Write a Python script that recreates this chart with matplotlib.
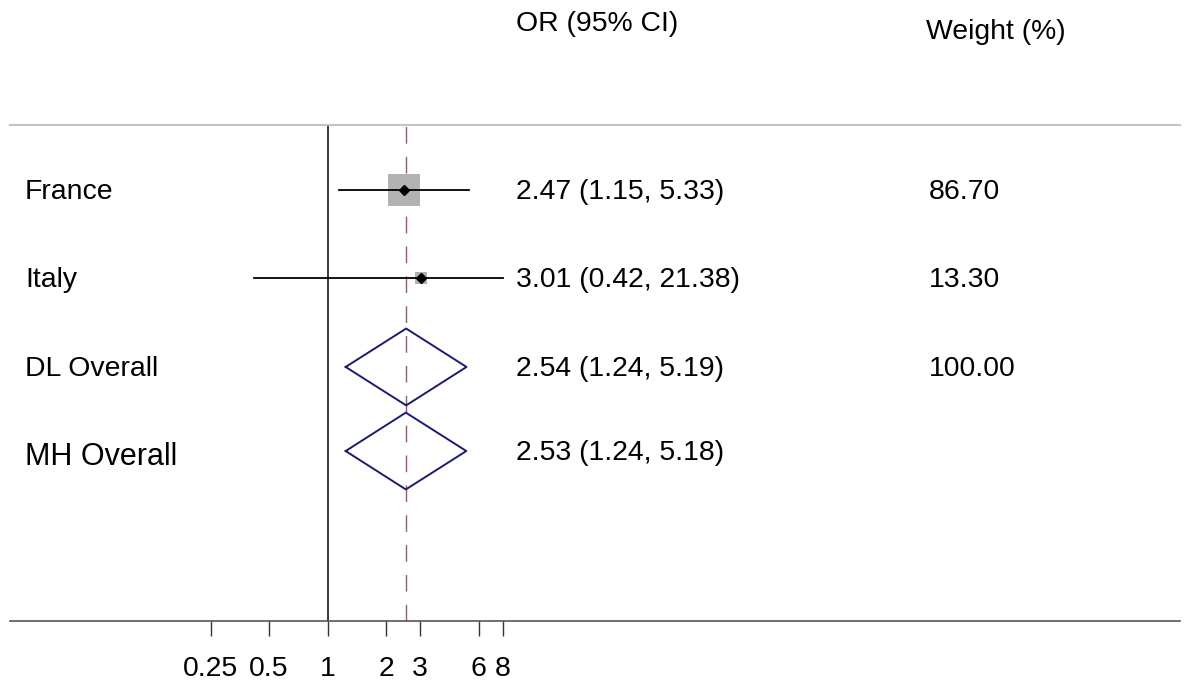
import numpy as np
import matplotlib
matplotlib.use("Agg")
import matplotlib.pyplot as plt
import matplotlib.transforms as mtransforms
from matplotlib.ticker import FixedLocator, FixedFormatter, NullLocator

plt.rcParams['font.family'] = ['Liberation Sans', 'DejaVu Sans']

# ---- data ----
studies = ["France", "Italy"]
study_or = [2.47, 3.01]
study_lo = [1.15, 0.42]
study_hi = [5.33, 21.38]
study_weight = [86.70, 13.30]

pooled = ["DL Overall", "MH Overall"]
pooled_or = [2.54, 2.53]
pooled_lo = [1.24, 1.24]
pooled_hi = [5.19, 5.18]
pooled_weight = ["100.00", ""]

tick_values = [0.25, 0.5, 1, 2, 3, 6, 8]
tick_labels = ["0.25", "0.5", "1", "2", "3", "6", "8"]
clip_max = 8

# ---- layout ----
W, H = 1200, 689
fig = plt.figure(figsize=(W / 100, H / 100), dpi=100)
ax_left, ax_right, ax_top, ax_bot = 10, 1180, 125, 621
ax = fig.add_axes([ax_left / W, 1 - ax_bot / H, (ax_right - ax_left) / W, (ax_bot - ax_top) / H])

px_per_doubling = 58.5
x1_px = 327.5
ax.set_xscale('log', base=2)
ax.set_xlim(2 ** ((ax_left - x1_px) / px_per_doubling), 2 ** ((ax_right - x1_px) / px_per_doubling))
row_px = 87.3
row0_px = 190
ax.set_ylim((ax_bot - row0_px) / row_px, (ax_top - row0_px) / row_px)

row_pos = [0.0, 1.008, 2.027, 2.99]   # vertical layout of the four rows

fs = 20.4

# reference lines
ax.axvline(1, color='black', lw=1.1, zorder=1)
ax.axvline(pooled_or[0], color='#9c5a5a', lw=1.0, dashes=(12, 9.5), zorder=1)

# studies
for i, (name, est, lo, hi, w) in enumerate(zip(studies, study_or, study_lo, study_hi, study_weight)):
    y = row_pos[i]
    ax.plot([est], [y], marker='s', color='#b3b3b3', markersize=2.42 * np.sqrt(w),
            markeredgewidth=0, zorder=2)
    ax.plot([lo, min(hi, clip_max)], [y, y], color='black', lw=1.3, zorder=3)
    ax.plot([est], [y], marker='D', color='black', markersize=5.5, zorder=4)

# pooled diamonds
hh = 0.44
for j, (name, est, lo, hi) in enumerate(zip(pooled, pooled_or, pooled_lo, pooled_hi)):
    y = row_pos[len(studies) + j]
    ax.plot([lo, est, hi, est, lo], [y, y - hh, y, y + hh, y], color='#1c1c6e', lw=1.4, zorder=3)

# spines and ticks
for s in ['left', 'right']:
    ax.spines[s].set_visible(False)
ax.spines['top'].set_color('#c4c4c4')
ax.spines['top'].set_linewidth(1.5)
ax.spines['bottom'].set_color('#555555')
ax.spines['bottom'].set_linewidth(1.2)
ax.xaxis.set_major_locator(FixedLocator(tick_values))
ax.xaxis.set_major_formatter(FixedFormatter(tick_labels))
ax.xaxis.set_minor_locator(NullLocator())
ax.tick_params(axis='x', length=11, width=1.0, color='#333333', labelsize=fs, pad=14)
ax.set_yticks([])

# text columns
label_x = (25 - ax_left) / (ax_right - ax_left)
or_x = (516 - ax_left) / (ax_right - ax_left)
w_x = (929 - ax_left) / (ax_right - ax_left)
trans = mtransforms.blended_transform_factory(ax.transAxes, ax.transData)

all_names = studies + pooled
all_or = study_or + pooled_or
all_lo = study_lo + pooled_lo
all_hi = study_hi + pooled_hi
all_w = ["%.2f" % w for w in study_weight] + pooled_weight
for k, name in enumerate(all_names):
    y = row_pos[k] + 0.025
    size = 22 if name == "MH Overall" else fs
    dy = 0.04 if name == "MH Overall" else 0
    ax.text(label_x, y + dy, name, transform=trans, ha='left', va='center', fontsize=size)
    ax.text(or_x, y, "%.2f (%.2f, %.2f)" % (all_or[k], all_lo[k], all_hi[k]),
            transform=trans, ha='left', va='center', fontsize=fs)
    if all_w[k]:
        ax.text(w_x, y, all_w[k], transform=trans, ha='left', va='center', fontsize=fs)

fig.text(516 / W, 1 - 24 / H, "OR (95% CI)", ha='left', va='center', fontsize=fs)
fig.text(926 / W, 1 - 32 / H, "Weight (%)", ha='left', va='center', fontsize=fs)

fig.savefig("out.png", dpi=100)
